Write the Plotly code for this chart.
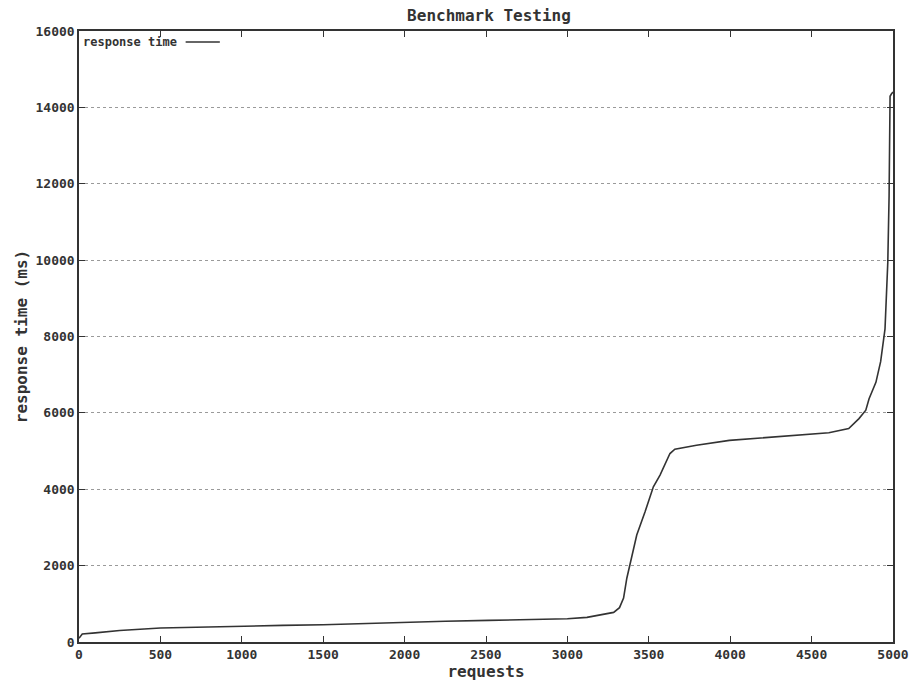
import plotly.graph_objects as go

requests = [0, 20, 100, 250, 500, 750, 1010, 1250, 1500, 1750, 2010, 2250, 2515, 2741, 3000,
            3120, 3230, 3284, 3320, 3345, 3365, 3385, 3426, 3477, 3497, 3528, 3569, 3630,
            3660, 3793, 3995, 4300, 4606, 4728, 4791, 4833, 4853, 4895, 4924, 4951, 4960,
            4968, 4976, 4982, 4990, 5000]
response_ms = [100, 210, 240, 300, 365, 395, 425, 435, 450, 480, 530, 545, 565, 580, 610,
               645, 720, 775, 900, 1150, 1670, 2020, 2800, 3410, 3670, 4065, 4370, 4935,
               5050, 5150, 5280, 5370, 5480, 5590, 5850, 6070, 6370, 6800, 7340, 8200, 9070,
               9940, 11680, 14290, 14350, 14400]

x_ticks = [0, 500, 1000, 1500, 2000, 2500, 3000, 3500, 4000, 4500, 5000]
y_ticks = [0, 2000, 4000, 6000, 8000, 10000, 12000, 14000, 16000]

FONT = "DejaVu Sans Mono"
INK = "#333333"

fig = go.Figure()
fig.add_trace(go.Scatter(x=requests, y=response_ms, mode="lines", name="response time",
                         line=dict(color=INK, width=1.6), showlegend=False))

fig.update_layout(
    width=921, height=687,
    margin=dict(l=79, r=21, t=31, b=40),
    paper_bgcolor="white", plot_bgcolor="white",
    title=dict(text="<b>Benchmark Testing</b>", x=(79 + 410) / 921, xanchor="center",
               y=1 - 15 / 687, yanchor="middle", font=dict(family=FONT, size=16, color=INK)),
    font=dict(family=FONT, color=INK),
    xaxis=dict(range=[0, 5000], tickvals=x_ticks, ticktext=[f"<b>{v}</b>" for v in x_ticks],
               showgrid=False, zeroline=False, showline=True, linecolor=INK, linewidth=1.5,
               mirror="ticks", ticks="inside", ticklen=6, tickcolor=INK, tickwidth=1.3,
               tickfont=dict(family=FONT, size=13, color=INK),
               title=dict(text="<b>requests</b>", font=dict(family=FONT, size=16, color=INK),
                          standoff=1)),
    yaxis=dict(range=[0, 16000], tickvals=y_ticks, ticktext=[f"<b>{v}</b>" for v in y_ticks],
               showgrid=True, gridcolor="#9a9a9a", griddash="dot", gridwidth=1,
               zeroline=False, showline=True, linecolor=INK, linewidth=1.5,
               mirror="ticks", ticks="inside", ticklen=6, tickcolor=INK, tickwidth=1.3,
               tickfont=dict(family=FONT, size=13, color=INK),
               title=dict(text="<b>response time (ms)</b>",
                          font=dict(family=FONT, size=16, color=INK), standoff=4)),
)

# gnuplot-style key: label followed by line sample
fig.add_annotation(x=0.002, y=0.982, xref="paper", yref="paper", xanchor="left",
                   yanchor="middle", showarrow=False,
                   text="<b>response time</b>", font=dict(family=FONT, size=12, color=INK))
fig.add_shape(type="line", xref="paper", yref="paper", x0=0.131, x1=0.173, y0=0.982, y1=0.982,
              line=dict(color=INK, width=1.3))

fig.write_html("out.html", config={"displayModeBar": False},
               post_script="document.body.style.margin='0';document.body.style.overflow='hidden';")
